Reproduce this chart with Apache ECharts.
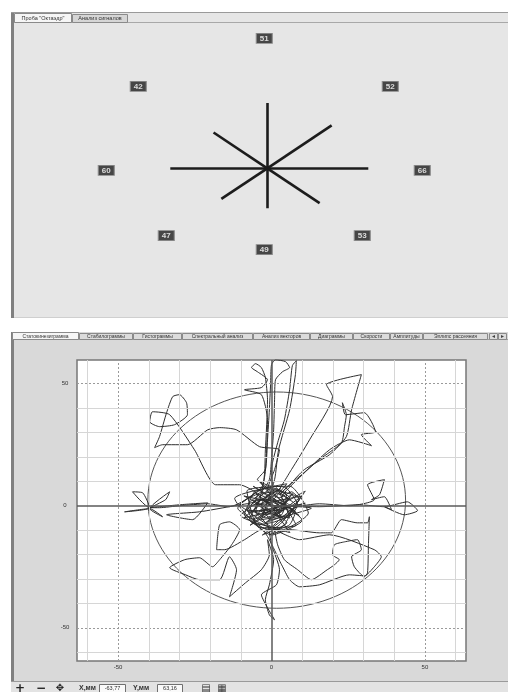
<!DOCTYPE html>
<html>
<head>
<meta charset="utf-8">
<script src="https://cdn.jsdelivr.net/npm/echarts@6/dist/echarts.min.js"></script>
<style>
  html, body { margin: 0; padding: 0; background: #ffffff; }
  #chart { width: 508px; height: 692px; }
</style>
</head>
<body>
<div id="chart"></div>
<script>
// ---------- Tabs and toolbar text ----------
const upperTabs = ['Проба "Октаэдр"', 'Анализ сигналов'];
const lowerTabs = ['Статокинезиграмма', 'Стабилограммы', 'Гистограммы', 'Спектральный анализ',
                   'Анализ векторов', 'Диаграммы', 'Скорости', 'Амплитуды', 'Эллипс рассеяния'];
const readoutX = '-63,77';
const readoutY = '63,16';

// ---------- Octahedron test: eight directions ----------
const octAngles = [90, 45, 0, -45, -90, -135, 180, 135];      // N, NE, E, SE, S, SW, W, NW
const rayLength = [98, 91, 101, 74, 60, 65, 97, 76];
const octScores = [51, 52, 66, 53, 49, 47, 60, 42];

// ---------- Statokinesigram (mm) ----------
const xTicks = [-50, 0, 50];
const yTicks = [-50, 0, 50];
const ellipseCentre = [1.7, 2.3];
const ellipseAxes = [42.0, 44.3];

const swayCentreA = [[-0.7,0.4],[-3.3,3.3],[-5.5,-1.6],[-2.0,-4.9],[2.6,-2.5],[5.2,2.5],[2.0,5.7],[-3.3,4.9],[-7.2,1.2],[-8.8,-3.7],[-4.6,-7.8],[1.0,-6.6],[6.5,-3.7],[8.5,0.4],[4.6,7.4],[-0.7,8.2],[-4.6,10.7]];
const swayUpA = [[-2.0,14.8],[-1.3,27.0],[-0.7,39.3],[-0.3,49.6],[0,57.8],[1.3,59.8],[4.6,59.0],[5.9,56.6],[3.6,54.9],[1.3,51.6],[1.0,43.4],[0.7,31.1],[0,18.9],[-0.7,10.7]];
const swayCentreB = [[-3.3,5.7],[-7.2,3.3],[-10.4,0.4],[-6.5,-2.5],[-1.3,-1.6],[3.9,0],[7.8,-2.5],[5.9,-7.8],[1.3,-9.8],[-3.3,-9.0],[-7.2,-5.7],[-4.0,2.0],[-2.0,14.0]];
const swayUpB = [[-1.3,35.2],[-3.3,45.5],[-8.8,47.5],[-3.3,48.4],[-1.3,51.6],[-4.6,54.9],[-6.5,56.6],[-5.2,58.2],[-3.3,56.6],[-2.0,52.5],[-1.3,43.4],[-2.0,22.9],[-3.0,8.0]];
const swayLeft = [[-13.7,-0.4],[-20.8,0.8],[-30.0,0],[-36.5,-0.8],[-39.7,-0.8],[-45.3,5.7],[-42.0,5.3],[-39.7,-0.8],[-47.9,-2.5],[-39.7,-1.2],[-35.5,-4.5],[-39.7,-1.2],[-33.2,5.7],[-34.5,2.5],[-39.7,-0.8],[-30.0,0.4],[-20.8,1.2],[-25.7,-5.7],[-34.2,-3.7],[-23.5,-2.5],[-12.1,0],[-5.5,1.6]];
const swayUpperLeft = [[-4.6,4.5],[-10.4,8.6],[-18.2,8.6],[-25.1,22.9],[-33.2,37.3],[-38.8,38.5],[-39.7,34.4],[-36.5,32.4],[-31.6,33.2],[-27.4,37.3],[-27.7,42.2],[-30.0,45.5],[-32.2,44.7],[-34.2,38.1],[-36.5,28.3],[-38.1,23.8],[-35.5,25.0],[-27.4,25.0],[-20.8,31.1],[-16.9,32.0],[-11.4,31.1],[-3.9,24.2],[2.6,22.9],[1.0,14.8],[-1.3,6.6]];
const swayCentreC = [[2.6,3.3],[6.5,5.7],[9.1,2.5],[4.2,-1.6],[-2.3,-3.7],[-7.8,-0.8],[-5.5,5.7],[0,7.4],[4.9,4.5],[3.3,-3.7],[-3.3,-5.7]];
const swayUpC = [[1.0,10.7],[2.3,22.9],[5.9,39.3],[7.8,53.7],[8.1,59.4],[6.8,57.4],[5.9,47.5],[4.2,35.2],[2.0,25.8],[0,14.8]];
const swayUpperRight = [[1.0,4.5],[6.5,14.8],[12.4,27.0],[19.9,44.7],[17.9,49.6],[29.3,53.7],[26.1,39.3],[24.4,28.3],[18.9,20.9],[10.7,14.8],[5.9,8.6],[2.6,4.5],
  [4.2,6.6],[15.6,18.9],[22.8,25.8],[23.8,32.4],[24.4,37.3],[23.1,42.2],[24.1,37.3],[30.3,38.1],[33.9,30.3],[29.3,29.1],[32.6,24.6],[25.4,27.0],[18.9,22.9],[9.1,11.5],[3.3,3.3]];
const swayRight = [[5.9,0.4],[15.6,-0.4],[28.7,0.4],[36.8,-0.4],[44.3,1.6],[47.6,-2.0],[43.3,-3.7],[36.8,-0.4],[39.1,-1.6],[36.8,3.7],[32.6,2.5],[35.2,4.5],[36.8,10.7],[31.3,8.6],[33.5,2.5],[25.4,0],[15.6,0.8],[7.5,-0.8]];
const swayCentreD = [[2.6,-5.7],[-1.3,-9.8],[-5.5,-6.6],[-7.8,-1.6],[-3.9,2.5],[2.0,1.6],[6.5,-1.6],[4.2,-7.8],[-0.7,-11.9]];
const swayLowerRight = [[5.9,-9.8],[15.6,-11.1],[19.5,-11.1],[22.8,-5.7],[28.0,-7.0],[31.3,-7.0],[31.9,-4.5],[31.6,-16.0],[31.3,-27.5],[30.3,-29.1],[27.0,-25.0],[26.1,-20.9],[29.3,-18.0],[28.0,-13.9],[23.8,-14.8],[20.5,-16.0],[19.9,-20.1],[22.1,-22.1],[20.5,-24.2],[18.2,-26.2],[13.0,-30.3],[8.5,-26.2],[4.2,-22.1],[2.0,-16.0],[1.0,-9.8],
  [9.1,-13.9],[18.9,-11.9],[33.5,-18.0],[35.8,-20.9],[33.5,-25.0],[30.3,-28.7],[25.4,-28.3],[15.6,-32.4],[9.1,-33.2],[5.9,-30.3],[3.3,-24.2]];
const swayLowerLeft = [[-3.3,-9.8],[-8.8,-13.9],[-15.3,-18.0],[-17.9,-18.0],[-16.9,-7.8],[-13.7,-6.6],[-10.4,-9.8],[-13.0,-16.0],[-16.9,-22.1],[-19.2,-25.0],[-23.5,-21.3],[-28.3,-22.1],[-33.2,-25.4],[-28.0,-28.3],[-23.5,-30.3],[-16.9,-30.3],[-13.7,-20.9],[-11.4,-26.2],[-13.7,-37.3],[-8.5,-31.6],[-3.3,-26.2],[-0.7,-20.1],[-1.3,-13.9]];
const swayDown = [[0.7,-22.1],[-0.7,-32.4],[-2.0,-38.5],[-0.7,-44.7],[1.0,-46.7],[-1.3,-41.8],[-3.3,-36.5],[1.6,-32.4],[2.6,-26.2],[0,-16.0],[-1.3,-7.8]];
const swayCentreE = [[-5.2,-2.5],[-3.3,2.5],[2.0,-0.8],[5.9,3.3],[1.3,6.6],[-3.3,0.4],[-0.7,-4.9],[3.9,-1.6],[-0.7,2.5],
  [-6,2],[4,-5],[9,3],[-2,7],[-11,-1],[3,-10],[12,-3],[6,8],[-8,6],[-4,-9],[8,-8],[1,4],[-9,-5],[11,1],[-3,-3],[5,9],
  [-12,3],[0,-12],[10,-6],[-6,8],[2,0],[-7,-8],[7,5],[-1,-6],[13,-1],[-5,1],[3,7],[-10,-4],[6,-11],[-2,3],[9,-4],
  [-4,10],[4,-2],[-8,-2],[1,-9],[11,6],[-6,-6],[2,5],[8,0],[-3,-12],[5,-7],[-9,4],[0,1],
  [3,-4],[-5,5],[7,-2],[-2,-7],[10,4],[-7,0],[1,8],[6,-5],[-4,-2],[2,-1]];

// ---------- Layout ----------
const scoreAnchor = [[-3,195],[123,123],[155,-3],[95,-101],[-3,-122],[-101,-101],[-161,-3],[-129,123]];
const upperTabEdges = [14, 72, 128];
const lowerTabEdges = [12, 79, 133, 182, 253, 310, 353, 390, 423, 488];
const FONT = 'Liberation Sans, Arial, sans-serif';

const swayPath = [].concat(swayCentreA, swayUpA, swayCentreB, swayUpB, swayLeft, swayUpperLeft,
  swayCentreC, swayUpC, swayUpperRight, swayRight, swayCentreD, swayLowerRight, swayLowerLeft,
  swayDown, swayCentreE);

const ellipsePoints = [];
for (let i = 0; i <= 120; i++) {
  const t = i / 120 * Math.PI * 2;
  ellipsePoints.push([ellipseCentre[0] + ellipseAxes[0] * Math.cos(t),
                      ellipseCentre[1] + ellipseAxes[1] * Math.sin(t)]);
}

const rays = octAngles.map((a, i) => {
  const r = a * Math.PI / 180;
  return { coords: [[0, 0], [rayLength[i] * Math.cos(r), rayLength[i] * Math.sin(r)]] };
});

// ---------- Window chrome ----------
const g = [];
// upper panel
g.push({ type: 'rect', z: -10, shape: { x: 11, y: 13, width: 497, height: 305 }, style: { fill: '#e6e6e6' } });
g.push({ type: 'line', shape: { x1: 11, y1: 12.5, x2: 508, y2: 12.5 }, style: { stroke: '#9a9a9a', lineWidth: 1 } });
g.push({ type: 'line', shape: { x1: 11, y1: 22.5, x2: 508, y2: 22.5 }, style: { stroke: '#a8a8a8', lineWidth: 1 } });
g.push({ type: 'line', shape: { x1: 11, y1: 317.5, x2: 508, y2: 317.5 }, style: { stroke: '#cfcfcf', lineWidth: 1 } });
g.push({ type: 'rect', shape: { x: 11, y: 13, width: 3, height: 305 }, style: { fill: '#808080' } });
upperTabs.forEach((t, i) => {
  const x0 = upperTabEdges[i], x1 = upperTabEdges[i + 1];
  const active = i === 0;
  g.push({ type: 'rect', shape: { x: x0 + 0.5, y: active ? 13.5 : 14.5, width: x1 - x0 - 1, height: active ? 9 : 8 },
           style: { fill: active ? '#f6f6f6' : '#d6d6d6', stroke: '#8a8a8a', lineWidth: 1 } });
  g.push({ type: 'text', style: { text: t, x: (x0 + x1) / 2, y: 18.5, align: 'center', verticalAlign: 'middle',
           fontSize: 5.5, fontFamily: FONT, fill: '#333' } });
});

// lower panel
g.push({ type: 'rect', z: -10, shape: { x: 11, y: 332, width: 497, height: 360 }, style: { fill: '#d9d9d9' } });
g.push({ type: 'line', shape: { x1: 11, y1: 339.5, x2: 508, y2: 339.5 }, style: { stroke: '#a0a0a0', lineWidth: 1 } });
g.push({ type: 'rect', shape: { x: 11, y: 332, width: 3, height: 349 }, style: { fill: '#808080' } });
lowerTabs.forEach((t, i) => {
  const x0 = lowerTabEdges[i], x1 = lowerTabEdges[i + 1];
  const active = i === 0;
  g.push({ type: 'rect', shape: { x: x0 + 0.5, y: active ? 332.5 : 333.5, width: x1 - x0 - 1, height: active ? 7 : 6 },
           style: { fill: active ? '#f6f6f6' : '#dcdcdc', stroke: '#8a8a8a', lineWidth: 1 } });
  g.push({ type: 'text', style: { text: t, x: (x0 + x1) / 2, y: 336.5, align: 'center', verticalAlign: 'middle',
           fontSize: 5, fontFamily: FONT, fill: '#333' } });
});
['◂', '▸'].forEach((s, i) => {
  g.push({ type: 'rect', shape: { x: 489.5 + i * 9, y: 333.5, width: 8, height: 6 },
           style: { fill: '#dcdcdc', stroke: '#8a8a8a', lineWidth: 1 } });
  g.push({ type: 'text', style: { text: s, x: 493.5 + i * 9, y: 336.5, align: 'center', verticalAlign: 'middle',
           fontSize: 6, fontFamily: FONT, fill: '#444' } });
});

// toolbar
g.push({ type: 'rect', shape: { x: 11, y: 681, width: 497, height: 11 }, style: { fill: '#e3e3e3' } });
g.push({ type: 'line', shape: { x1: 11, y1: 681.5, x2: 508, y2: 681.5 }, style: { stroke: '#9a9a9a', lineWidth: 1 } });
[['+', 20, 12], ['−', 41, 12], ['✥', 60, 10]].forEach(([s, x, fs]) => {
  g.push({ type: 'text', style: { text: s, x: x, y: 688.5, align: 'center', verticalAlign: 'middle',
           fontSize: fs, fontWeight: 'bold', fontFamily: 'DejaVu Sans', fill: '#222' } });
});
g.push({ type: 'text', style: { text: 'X,мм', x: 79, y: 688.5, verticalAlign: 'middle', fontSize: 7, fontWeight: 'bold', fontFamily: FONT, fill: '#333' } });
g.push({ type: 'rect', shape: { x: 99.5, y: 684.5, width: 26, height: 8 }, style: { fill: '#fafafa', stroke: '#707070', lineWidth: 1 } });
g.push({ type: 'text', style: { text: readoutX, x: 112.5, y: 688.5, align: 'center', verticalAlign: 'middle', fontSize: 5.5, fontFamily: FONT, fill: '#333' } });
g.push({ type: 'text', style: { text: 'Y,мм', x: 133, y: 688.5, verticalAlign: 'middle', fontSize: 7, fontWeight: 'bold', fontFamily: FONT, fill: '#333' } });
g.push({ type: 'rect', shape: { x: 157.5, y: 684.5, width: 25, height: 8 }, style: { fill: '#fafafa', stroke: '#707070', lineWidth: 1 } });
g.push({ type: 'text', style: { text: readoutY, x: 170, y: 688.5, align: 'center', verticalAlign: 'middle', fontSize: 5.5, fontFamily: FONT, fill: '#333' } });
[['▤', 206], ['▦', 222]].forEach(([s, x]) => {
  g.push({ type: 'text', style: { text: s, x: x, y: 688.5, align: 'center', verticalAlign: 'middle',
           fontSize: 10, fontFamily: 'DejaVu Sans', fill: '#333' } });
});

// ---------- Grid lines of the statokinesigram ----------
const gridMarks = [];
for (let v = -60; v <= 60; v += 10) {
  if (v === 0) continue;
  const dashed = Math.abs(v) === 50;
  const ls = dashed ? { color: '#9a9a9a', width: 1, type: [2, 2] } : { color: '#d6d6d6', width: 1, type: 'solid' };
  gridMarks.push({ xAxis: v, lineStyle: ls });
  if (v <= 50) gridMarks.push({ yAxis: v, lineStyle: ls });
}
gridMarks.push({ xAxis: 0, lineStyle: { color: '#5a5a5a', width: 1.5, type: 'solid' } });
gridMarks.push({ yAxis: 0, lineStyle: { color: '#5a5a5a', width: 1.5, type: 'solid' } });

const chart = echarts.init(document.getElementById('chart'), null, { renderer: 'canvas' });
chart.setOption({
  animation: false,
  backgroundColor: '#ffffff',
  graphic: { elements: g },
  grid: [
    { left: 12, top: 22, width: 496, height: 295, show: false },
    { left: 77, top: 360, width: 389, height: 301, show: true, backgroundColor: '#ffffff',
      borderColor: '#777777', borderWidth: 1.5 }
  ],
  xAxis: [
    { gridIndex: 0, type: 'value', min: -255.3, max: 240.7, show: false },
    { gridIndex: 1, type: 'value', min: -63.4, max: 63.4,
      axisLine: { show: false }, axisTick: { show: false }, splitLine: { show: false },
      axisLabel: { customValues: xTicks, fontSize: 6, color: '#333', margin: 3, fontFamily: FONT } }
  ],
  yAxis: [
    { gridIndex: 0, type: 'value', min: -223.05, max: 219.45, show: false },
    { gridIndex: 1, type: 'value', min: -63.6, max: 59.7,
      axisLine: { show: false }, axisTick: { show: false }, splitLine: { show: false },
      axisLabel: { customValues: yTicks, fontSize: 6, color: '#333', margin: 12, align: 'center', fontFamily: FONT } }
  ],
  series: [
    {
      name: 'rays', type: 'lines', coordinateSystem: 'cartesian2d', xAxisIndex: 0, yAxisIndex: 0,
      silent: true, data: rays,
      lineStyle: { color: '#1c1c1c', width: 2.6, opacity: 1 }
    },
    {
      name: 'hub', type: 'scatter', xAxisIndex: 0, yAxisIndex: 0, silent: true,
      data: [[0, 0]], symbol: 'circle', symbolSize: 4, itemStyle: { color: '#1c1c1c' }
    },
    {
      name: 'scores', type: 'scatter', xAxisIndex: 0, yAxisIndex: 0, silent: true,
      data: scoreAnchor.map((p, i) => [p[0], p[1], octScores[i]]),
      symbol: 'rect', symbolSize: [16, 10],
      itemStyle: { color: '#1e1e1e', borderColor: '#8a8a8a', borderWidth: 1 },
      label: { show: true, position: 'inside', formatter: p => String(p.value[2]),
               color: '#ffffff', fontSize: 8, fontWeight: 'bold', fontFamily: FONT }
    },
    {
      name: 'grid', type: 'line', xAxisIndex: 1, yAxisIndex: 1, z: 1, silent: true,
      data: [[0, 0]], showSymbol: false, lineStyle: { opacity: 0 },
      markLine: { silent: true, symbol: ['none', 'none'], label: { show: false }, animation: false, data: gridMarks }
    },
    {
      name: 'ellipse', type: 'line', xAxisIndex: 1, yAxisIndex: 1, z: 2, silent: true,
      data: ellipsePoints, showSymbol: false, smooth: false,
      lineStyle: { color: '#555555', width: 1 }
    },
    {
      name: 'sway', type: 'line', xAxisIndex: 1, yAxisIndex: 1, z: 3, silent: true,
      data: swayPath, showSymbol: false, smooth: 0.2,
      lineStyle: { color: '#2e2e2e', width: 1 }
    }
  ]
});
</script>
</body>
</html>
